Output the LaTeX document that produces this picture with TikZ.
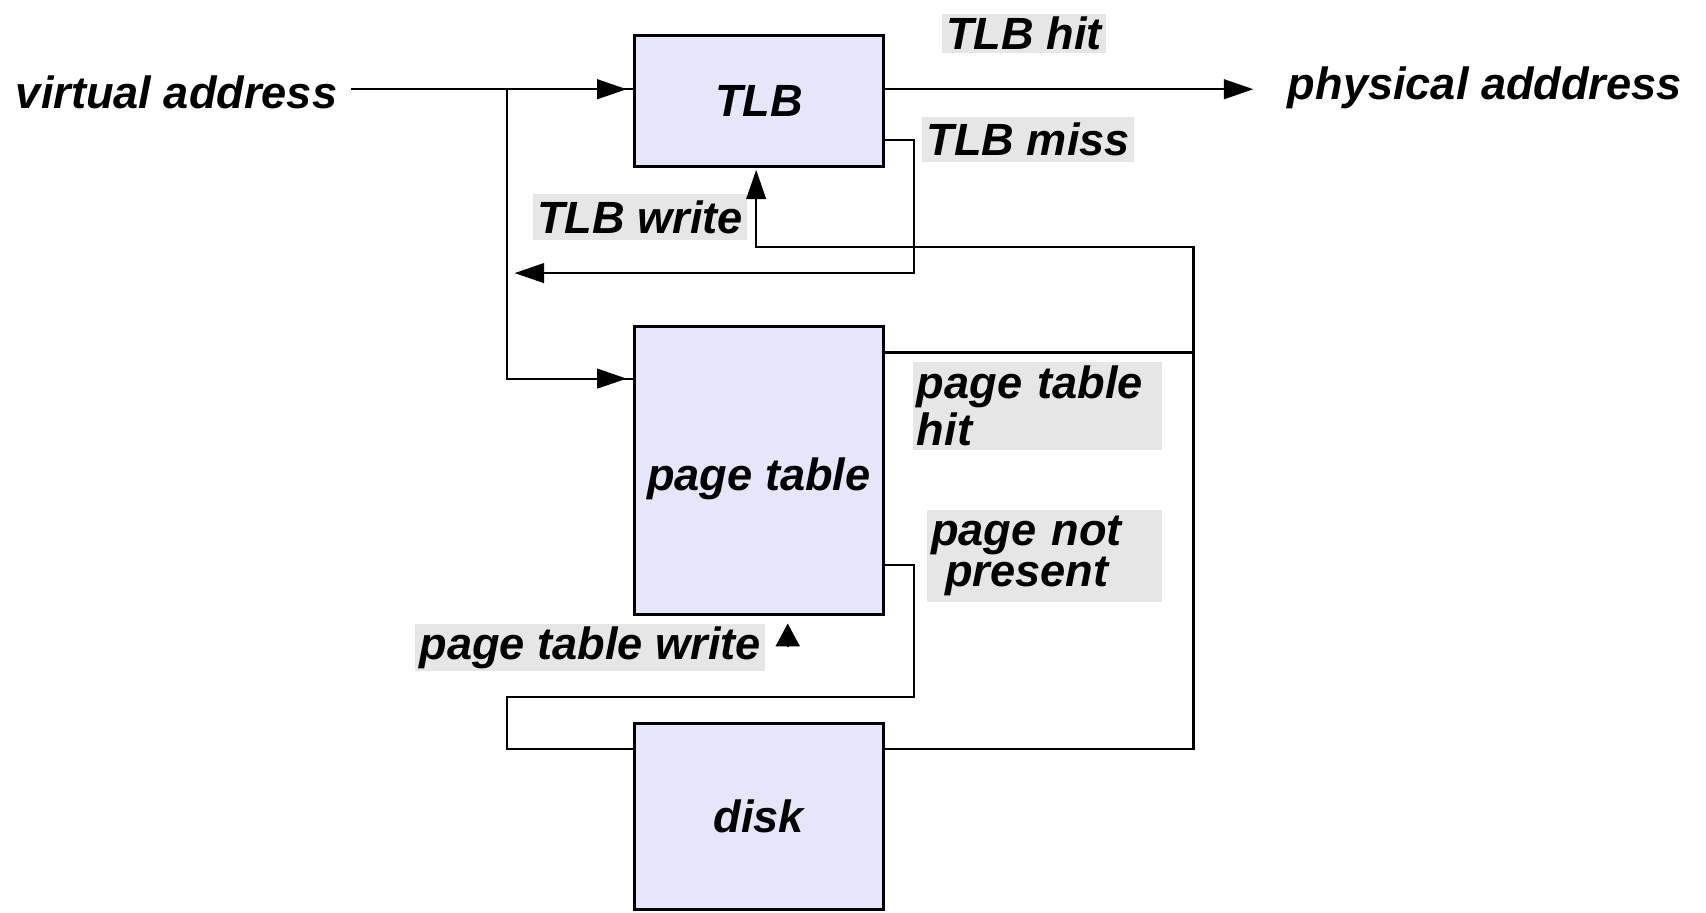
\documentclass[tikz,border=0pt]{standalone}
\usepackage{fontspec}
\setmainfont{Liberation Sans}
\usetikzlibrary{arrows.meta,decorations.markings}
\definecolor{boxfill}{HTML}{E6E6FA}
\definecolor{lblfill}{HTML}{E6E6E6}
\begin{document}
\begin{tikzpicture}[x=0.01cm,y=-0.01cm,
  txt/.style={font=\fontsize{11.8}{12.5}\selectfont\bfseries\itshape},
  blk/.style={txt, draw=black, fill=boxfill, line width=0.8pt, inner sep=0pt, outer sep=0pt, minimum width=2.29cm},
  lbl/.style={txt, fill=lblfill, inner xsep=0.04cm, inner ysep=0pt, anchor=north west},
  free/.style={txt, inner sep=0pt, anchor=west},
  conn/.style={line width=0.55pt},
  tipend/.style={-{Triangle[length=0.27cm,width=0.18cm]}},
  arrowat/.style={postaction={decorate}, decoration={markings, mark=at position #1 with {\arrow{Triangle[length=0.27cm,width=0.18cm]}}}}
]
\useasboundingbox (0,0) rectangle (1568,839);

% blocks
\node[blk, minimum height=1.20cm] (tlb) at (697.5,93) {TLB};
\node[blk, minimum height=2.65cm, text height=0.45cm] (pt) at (697.5,432.5) {page table};
\node[blk, minimum height=1.71cm] (disk) at (697.5,750.5) {disk};

% free texts
\node[free] (va) at (14,85) {virtual address};
\node[free] (pa) at (1183,81) {physical adddress};

% labels
\node[lbl, minimum width=1.47cm, minimum height=0.36cm] (lhit) at (865,12) {TLB hit};
\node[lbl, minimum width=1.93cm, minimum height=0.41cm] (lmiss) at (847,107) {TLB miss};
\node[lbl, minimum width=1.92cm, minimum height=0.42cm] (lwrite) at (489,178) {TLB write};
\node[lbl, text width=2.21cm, align=left, minimum height=0.81cm, font=\fontsize{11.8}{12.3}\selectfont\bfseries\itshape] (lpth) at (838,332) {page table\\hit};
\node[lbl, text width=2.08cm, align=left, minimum height=0.85cm, font=\fontsize{11.8}{10.6}\selectfont\bfseries\itshape] (lnp) at (851,468) {page not\\\hspace*{0.13cm}present};
\node[lbl, minimum width=3.18cm, minimum height=0.43cm] (lptw) at (381,573) {page table write};

% coordinates
\coordinate (vin) at (323,82);
\coordinate (j1) at (466,82);
\coordinate (j2) at (466,348);
\coordinate (mc) at (840,251);
\coordinate (rv) at (1097,227);
\coordinate (np) at (840,641);
\coordinate (dl) at (466,688);

% virtual address -> TLB
\draw[conn, arrowat=-0.07cm] (vin) -- (vin -| tlb.west);
% branch -> page table
\draw[conn, arrowat=-0.07cm] (j1) -- (j2) -- (j2 -| pt.west);
% TLB hit -> physical address
\draw[conn, tipend, shorten >=0.31cm] (tlb.east |- vin) -- (pa.west |- vin);
% TLB miss
\draw[conn, tipend, shorten >=0.07cm] ([yshift=-0.36cm]tlb.east) -| (mc) -- (j1 |- mc);
% page table hit -> TLB write
\draw[conn, tipend, shorten >=0.03cm] ([yshift=-0.24cm]pt.north east) -| (rv) -| ([xshift=-0.025cm]tlb.south);
% page not present -> disk
\draw[conn] ([yshift=0.46cm]pt.south east) -| (np) -| (dl) -- (dl -| disk.west);
% disk -> back up
\draw[conn] (dl -| disk.east) -| (rv);
% lone arrowhead (page table write)
\draw[conn, -{Triangle[length=0.21cm,width=0.22cm]}] ([xshift=0.265cm,yshift=-0.29cm]pt.south) -- ([xshift=0.265cm,yshift=-0.08cm]pt.south);
\end{tikzpicture}
\end{document}
